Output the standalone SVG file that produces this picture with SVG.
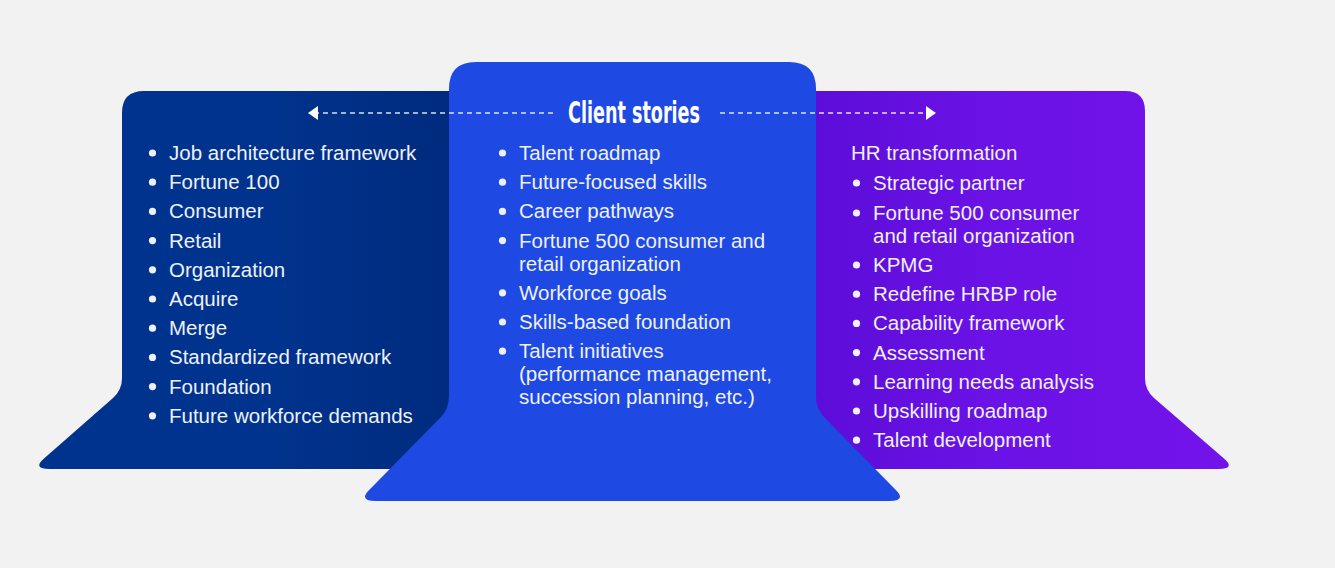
<svg xmlns="http://www.w3.org/2000/svg" width="1335" height="568" viewBox="0 0 1335 568">
  <defs>
    <linearGradient id="gLeft" x1="0" y1="0" x2="1" y2="0">
      <stop offset="0" stop-color="#00338D"/>
      <stop offset="0.55" stop-color="#00338D"/>
      <stop offset="1" stop-color="#002A7C"/>
    </linearGradient>
    <linearGradient id="gRight" x1="0" y1="0" x2="1" y2="0">
      <stop offset="0" stop-color="#5A0CD6"/>
      <stop offset="0.45" stop-color="#6B12E6"/>
      <stop offset="1" stop-color="#7213EA"/>
    </linearGradient>
    <marker id="arrow" viewBox="0 0 10 14" refX="9" refY="7" markerWidth="10" markerHeight="14" markerUnits="userSpaceOnUse" orient="auto-start-reverse">
      <path d="M0,0 L10,7 L0,14 Z" fill="#FFFFFF"/>
    </marker>
    <style>
      .item { font-family: "Liberation Sans", Arial, sans-serif; font-size: 20.5px; fill: #EEF1FA; }
      .bullet { fill: #EEF1FA; }
      .title { font-family: "Liberation Sans Narrow", "DejaVu Sans Condensed", "Roboto", sans-serif; font-weight: bold; font-stretch: condensed; font-size: 31px; fill: #FFFFFF; }
      .dash { stroke: #FFFFFF; stroke-opacity: 0.85; stroke-width: 1.6; stroke-dasharray: 5 4; fill: none; }
    </style>
  </defs>

  <rect x="0" y="0" width="1335" height="568" fill="#F2F2F2"/>

  <g id="node-left">
    <path d="M122,113 Q122,91 144,91 L470,91 L470,469 L50,469 Q32,469 44,458.5 L113,398 Q122,390 122,378 Z" fill="url(#gLeft)"/>
    <g class="bullet">
      <circle cx="152.5" cy="153" r="3.6"/>
      <circle cx="152.5" cy="182.2" r="3.6"/>
      <circle cx="152.5" cy="211.4" r="3.6"/>
      <circle cx="152.5" cy="240.6" r="3.6"/>
      <circle cx="152.5" cy="269.8" r="3.6"/>
      <circle cx="152.5" cy="299" r="3.6"/>
      <circle cx="152.5" cy="328.2" r="3.6"/>
      <circle cx="152.5" cy="357.4" r="3.6"/>
      <circle cx="152.5" cy="386.6" r="3.6"/>
      <circle cx="152.5" cy="415.8" r="3.6"/>
    </g>
    <text class="item" x="169" y="160">Job architecture framework</text>
    <text class="item" x="169" y="189.2">Fortune 100</text>
    <text class="item" x="169" y="218.4">Consumer</text>
    <text class="item" x="169" y="247.6">Retail</text>
    <text class="item" x="169" y="276.8">Organization</text>
    <text class="item" x="169" y="306">Acquire</text>
    <text class="item" x="169" y="335.2">Merge</text>
    <text class="item" x="169" y="364.4">Standardized framework</text>
    <text class="item" x="169" y="393.6">Foundation</text>
    <text class="item" x="169" y="422.8">Future workforce demands</text>
  </g>

  <g id="node-right">
    <path d="M790,91 L1125,91 Q1145,91 1145,111 L1145,378 Q1145,390 1154,398 L1224,458.5 Q1236,469 1218,469 L790,469 Z" fill="url(#gRight)"/>
    <text class="item" x="851" y="160">HR transformation</text>
    <g class="bullet">
      <circle cx="856.5" cy="183" r="3.6"/>
      <circle cx="856.5" cy="213" r="3.6"/>
      <circle cx="856.5" cy="265" r="3.6"/>
      <circle cx="856.5" cy="294.2" r="3.6"/>
      <circle cx="856.5" cy="323.4" r="3.6"/>
      <circle cx="856.5" cy="352.6" r="3.6"/>
      <circle cx="856.5" cy="381.8" r="3.6"/>
      <circle cx="856.5" cy="411" r="3.6"/>
      <circle cx="856.5" cy="440.2" r="3.6"/>
    </g>
    <text class="item" x="873" y="190">Strategic partner</text>
    <text class="item" x="873" y="220">Fortune 500 consumer</text>
    <text class="item" x="873" y="243">and retail organization</text>
    <text class="item" x="873" y="272">KPMG</text>
    <text class="item" x="873" y="301.2">Redefine HRBP role</text>
    <text class="item" x="873" y="330.4">Capability framework</text>
    <text class="item" x="873" y="359.6">Assessment</text>
    <text class="item" x="873" y="388.8">Learning needs analysis</text>
    <text class="item" x="873" y="418">Upskilling roadmap</text>
    <text class="item" x="873" y="447.2">Talent development</text>
  </g>

  <g id="node-center">
    <path d="M449,89 Q449,62 476,62 L789,62 Q816,62 816,89 L816,396 Q816,410 826,419 L895.6,489.8 Q907,501 889,501 L376,501 Q358,501 369.4,489.8 L439,419 Q449,410 449,396 Z" fill="#1E49E2"/>
    <g class="bullet">
      <circle cx="502.5" cy="153" r="3.6"/>
      <circle cx="502.5" cy="182.2" r="3.6"/>
      <circle cx="502.5" cy="211.4" r="3.6"/>
      <circle cx="502.5" cy="240.6" r="3.6"/>
      <circle cx="502.5" cy="292.8" r="3.6"/>
      <circle cx="502.5" cy="322" r="3.6"/>
      <circle cx="502.5" cy="351.2" r="3.6"/>
    </g>
    <text class="item" x="519" y="160">Talent roadmap</text>
    <text class="item" x="519" y="189.2">Future-focused skills</text>
    <text class="item" x="519" y="218.4">Career pathways</text>
    <text class="item" x="519" y="247.6">Fortune 500 consumer and</text>
    <text class="item" x="519" y="270.6">retail organization</text>
    <text class="item" x="519" y="299.8">Workforce goals</text>
    <text class="item" x="519" y="329">Skills-based foundation</text>
    <text class="item" x="519" y="358.2">Talent initiatives</text>
    <text class="item" x="519" y="381.2">(performance management,</text>
    <text class="item" x="519" y="404.2">succession planning, etc.)</text>
    <text class="title" x="568" y="123" textLength="132" lengthAdjust="spacingAndGlyphs">Client stories</text>
  </g>

  <g id="connectors">
    <path class="dash" d="M553,113 L309,113" marker-end="url(#arrow)"/>
    <path class="dash" d="M720,113 L935,113" marker-end="url(#arrow)"/>
  </g>
</svg>
